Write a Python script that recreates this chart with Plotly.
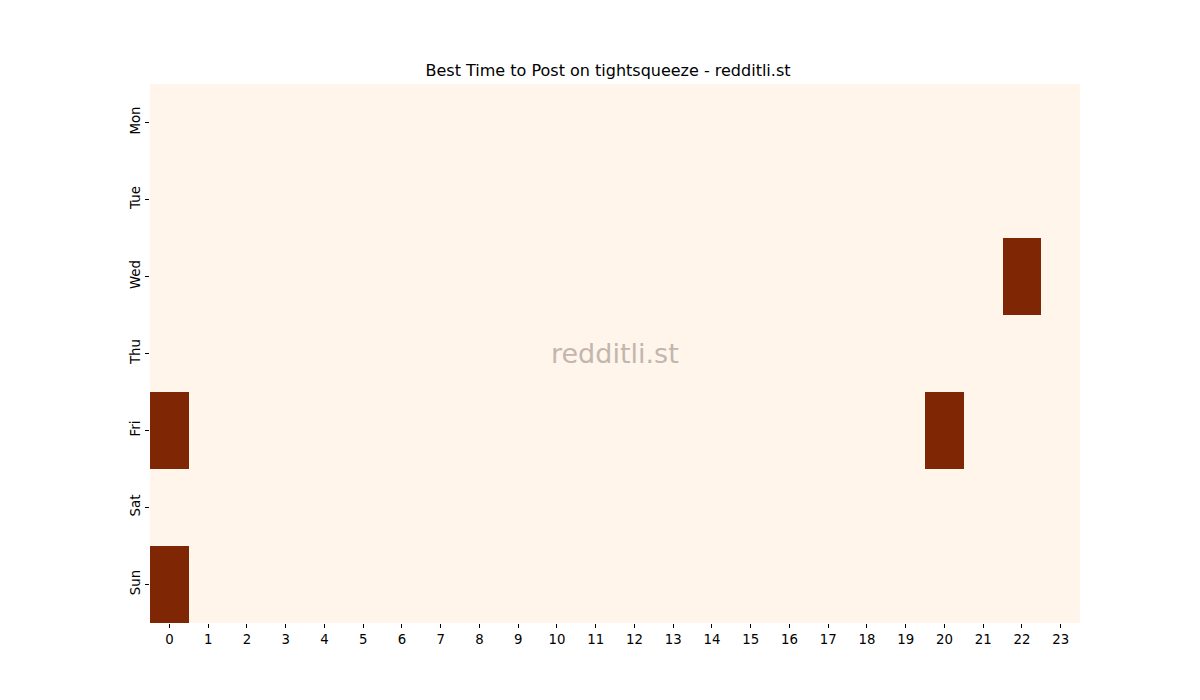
import plotly.graph_objects as go

# day/hour grid of posting scores
days = ['Mon', 'Tue', 'Wed', 'Thu', 'Fri', 'Sat', 'Sun']
hours = list(range(24))
hot_cells = [('Wed', 22), ('Fri', 0), ('Fri', 20), ('Sun', 0)]

z = []
for d in days:
    row = [0] * len(hours)
    for hd, hh in hot_cells:
        if hd == d:
            row[hh] = 1
    z.append(row)

fig = go.Figure(
    go.Heatmap(
        z=z,
        x=hours,
        y=days,
        colorscale=[[0, '#fff5eb'], [1, '#7f2704']],
        zmin=0, zmax=1,
        showscale=False,
        xgap=0, ygap=0,
        hoverongaps=False
    )
)

# page is offset by 8px, so margins are trimmed to compensate
fig.update_layout(
    width=1200, height=700,
    margin=dict(l=142, r=128, t=76, b=85),
    paper_bgcolor='white',
    plot_bgcolor='white',
    font=dict(family='DejaVu Sans', size=13.3, color='black'),
    title=dict(
        text='Best Time to Post on tightsqueeze - redditli.st',
        x=0.5, xanchor='center',
        y=1 - 62 / 700, yanchor='middle',
        font=dict(size=16)
    ),
    annotations=[
        dict(
            text='redditli.st',
            x=0.5, y=0.5, xref='paper', yref='paper',
            showarrow=False,
            font=dict(size=27, color='#c2b6ae')
        )
    ]
)

fig.update_xaxes(
    tickmode='array', tickvals=hours, ticktext=[str(h) for h in hours],
    ticks='outside', ticklen=4, tickcolor='black',
    showgrid=False, zeroline=False, showline=False,
    range=[-0.5, 23.5]
)
fig.update_yaxes(
    autorange='reversed',
    ticks='outside', ticklen=4, tickcolor='black', tickangle=-90,
    showgrid=False, zeroline=False, showline=False
)

fig.write_html("out.html")
